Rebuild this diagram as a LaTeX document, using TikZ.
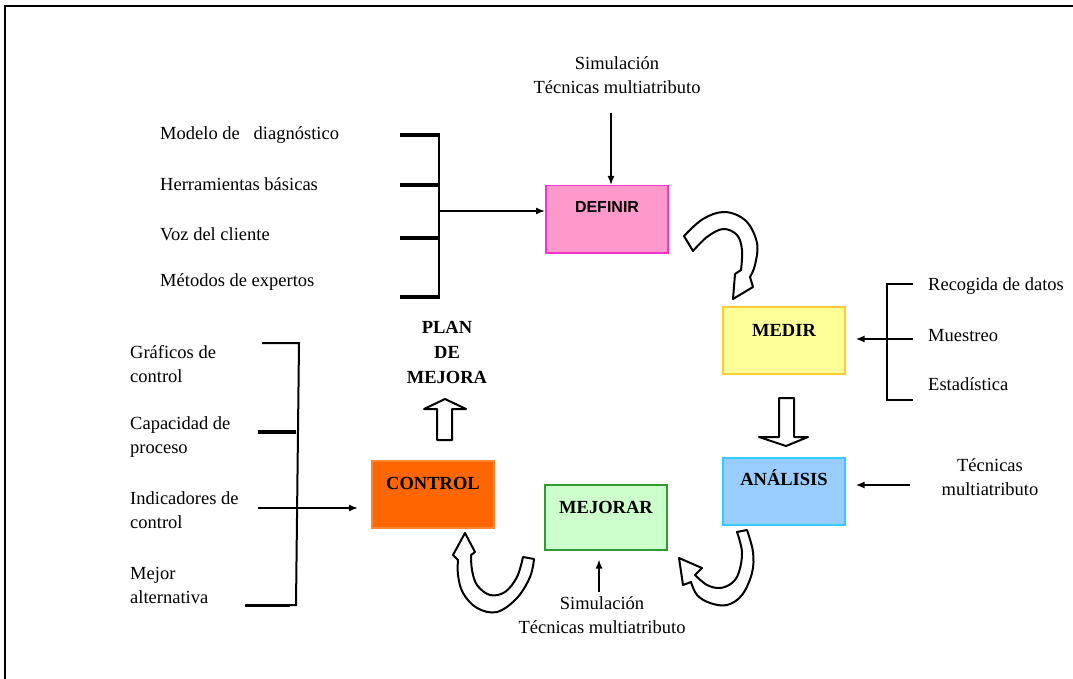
\documentclass[tikz,border=0pt]{standalone}
\usepackage{fontspec}
\setmainfont{Liberation Serif}
\newfontfamily\headsans{Liberation Sans}
\usetikzlibrary{arrows.meta,calc}

\definecolor{pinkfill}{HTML}{FF99CC}
\definecolor{pinkline}{HTML}{FF33CC}
\definecolor{yelfill}{HTML}{FFFF99}
\definecolor{yelline}{HTML}{FFCC33}
\definecolor{bluefill}{HTML}{99CCFF}
\definecolor{blueline}{HTML}{33CCFF}
\definecolor{orfill}{HTML}{FF6600}
\definecolor{orline}{HTML}{FF8533}
\definecolor{grfill}{HTML}{CCFFCC}
\definecolor{grline}{HTML}{339933}

\begin{document}
\begin{tikzpicture}[x=1pt,y=1pt,
  txt/.style={font=\fontsize{18.5}{24}\selectfont, inner sep=0pt},
  boldtxt/.style={font=\bfseries\fontsize{18.5}{25}\selectfont, inner sep=0pt},
  stepbox/.style={draw, line width=1.5pt, anchor=north west, inner sep=0pt,
    minimum width=122pt, minimum height=67pt},
  hollow/.style={draw=black, fill=white, line width=2pt, line join=round},
  conn/.style={line width=1.6pt, -{Latex[length=9pt,width=7pt]}},
  tick/.style={line width=3.5pt},
  spine/.style={line width=2pt}]
\useasboundingbox (0,0) rectangle (1073,-679);

% outer frame
\draw[line width=2pt] (5,-679) -- (5,-6) -- (1073,-6);

% process boxes
\node[stepbox, fill=pinkfill, draw=pinkline] (definir) at (545,-185) {};
\node[stepbox, fill=yelfill, draw=yelline] (medir) at (722,-306) {};
\node[stepbox, fill=bluefill, draw=blueline] (analisis) at (722,-457) {};
\node[stepbox, fill=orfill, draw=orline] (control) at (371,-460) {};
\node[stepbox, fill=grfill, draw=grline, minimum height=65pt] (mejorar) at (544,-484) {};

\node[inner sep=0pt, font=\headsans\bfseries\fontsize{16}{18}\selectfont] (definir-t) at (607,-207) {DEFINIR};
\node[boldtxt] (medir-t) at (784,-330) {MEDIR};
\node[boldtxt] (analisis-t) at (784,-478) {ANÁLISIS};
\node[boldtxt] (control-t) at (433,-483) {CONTROL};
\node[boldtxt] (mejorar-t) at (606,-507) {MEJORAR};
\node[boldtxt, align=center] (plan) at (447,-352) {PLAN\\DE\\MEJORA};

% top inputs to DEFINIR
\node[txt, align=center] (top-in) at (617,-75) {Simulación\\Técnicas multiatributo};
\coordinate (top-a) at (611,-113);
\draw[conn] (top-a) -- (top-a |- definir.north);

% left bracket into DEFINIR
\node[txt, anchor=west] (d1) at (160,-135) {Modelo de\ \ \ diagnóstico};
\node[txt, anchor=west] (d2) at (160,-184) {Herramientas básicas};
\node[txt, anchor=west] (d3) at (160,-234) {Voz del cliente};
\node[txt, anchor=west] (d4) at (160,-282) {Métodos de expertos};
\draw[tick] (400,-135) -- (440,-135);
\draw[tick] (400,-185) -- (440,-185);
\draw[tick] (400,-238) -- (440,-238);
\draw[tick] (400,-297) -- (440,-297);
\draw[spine] (439,-134) -- (439,-298);
\coordinate (d-a) at (439,-211);
\draw[conn] (d-a) -- (d-a -| definir.west);

% right bracket into MEDIR
\node[txt, anchor=west] (m1) at (928,-286) {Recogida de datos};
\node[txt, anchor=west] (m2) at (928,-336) {Muestreo};
\node[txt, anchor=west] (m3) at (928,-384) {Estadística};
\draw[spine, line width=2.5pt] (913,-284) -- (887,-284) -- (887,-400) -- (913,-400);
\coordinate (m-a) at (913,-339);
\draw[conn, line width=2.5pt, shorten >=10pt] (m-a) -- (m-a -| medir.east);

% input to ANÁLISIS
\node[txt, align=center] (a-in) at (990,-477) {Técnicas\\multiatributo};
\coordinate (a-a) at (910,-485);
\draw[conn, line width=2pt, shorten >=10pt] (a-a) -- (a-a -| analisis.east);

% left bracket into CONTROL
\node[txt, anchor=west, align=left] (c1) at (130,-364) {Gráficos de\\control};
\node[txt, anchor=west, align=left] (c2) at (130,-437) {Capacidad de\\proceso};
\node[txt, anchor=west, align=left] (c3) at (130,-510) {Indicadores de\\control};
\node[txt, anchor=west, align=left] (c4) at (130,-585) {Mejor\\alternativa};
\draw[spine] (262,-343) -- (299,-343) -- (296,-605) -- (245,-605);
\draw[line width=3pt] (245,-605) -- (290,-605);
\draw[line width=4.5pt] (258,-432) -- (296,-432);
\coordinate (c-a) at (258,-508);
\draw[conn, shorten >=13pt] (c-a) -- (c-a -| control.west);

% input to MEJORAR
\node[txt, align=center] (j-in) at (602,-615) {Simulación\\Técnicas multiatributo};
\coordinate (j-a) at (599,-592);
\draw[conn, line width=1.4pt, shorten >=9pt] (j-a) -- (j-a |- mejorar.south);

% straight hollow arrows
\draw[hollow] (779,-398) -- (779,-437) -- (759,-437) -- (786,-446)
  -- (808,-437) -- (794,-437) -- (794,-398) -- cycle;
\draw[hollow] (437,-440) -- (437,-409) -- (424,-409) -- (445,-399)
  -- (466,-409) -- (452,-409) -- (452,-440) -- cycle;

% curved hollow arrows between phases (outline: inner edge, head, outer edge)
% DEFINIR -> MEDIR
\draw[hollow]
  plot[smooth, tension=0.6] coordinates {(693,-251) (707,-237) (723,-229) (737,-235) (742,-250) (741,-270)}
  -- (735,-274) -- (733,-299) -- (753,-287) -- (750,-277)
  -- plot[smooth, tension=0.6] coordinates {(750,-277) (755,-265) (757,-243) (746,-221) (725,-212) (703,-219) (684,-236)}
  -- cycle;
% ANÁLISIS -> MEJORAR
\draw[hollow]
  plot[smooth, tension=0.6] coordinates {(737,-532) (742,-552) (739,-572) (732,-583) (720,-588) (707,-585) (695,-575)}
  -- (702,-568) -- (679,-558) -- (683,-585) -- (691,-582)
  -- plot[smooth, tension=0.6] coordinates {(691,-582) (697,-595) (710,-603) (727,-605) (742,-595) (752,-573) (753,-552) (747,-530)}
  -- cycle;
% MEJORAR -> CONTROL
\draw[hollow]
  plot[smooth, tension=0.6] coordinates {(523,-557) (517,-577) (505,-592) (490,-595) (477,-585) (472,-570) (471,-555)}
  -- (475,-552) -- (465,-533) -- (453,-555) -- (458,-560)
  -- plot[smooth, tension=0.6] coordinates {(458,-560) (458,-575) (463,-593) (477,-608) (497,-612) (517,-598) (530,-577) (534,-559)}
  -- cycle;
\end{tikzpicture}
\end{document}
